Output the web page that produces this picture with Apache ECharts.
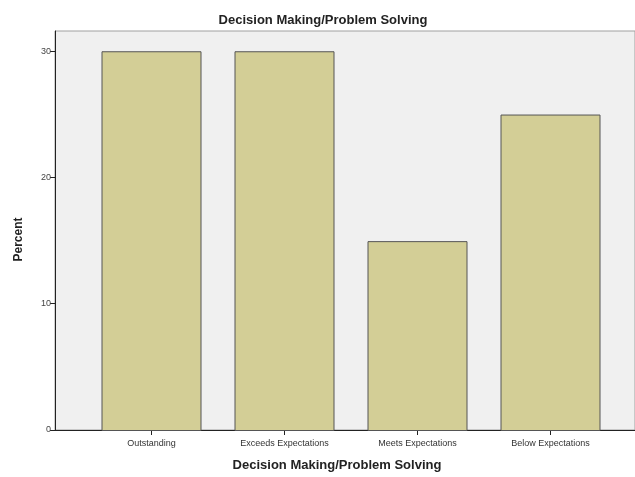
<!DOCTYPE html>
<html><head><meta charset="utf-8">
<script src="https://cdn.jsdelivr.net/npm/echarts@6/dist/echarts.min.js"></script>
<style>html,body{margin:0;padding:0;background:#fff}#c{width:635px;height:477px}</style>
</head><body><div id="c"></div>
<script>
const categories = ['Outstanding', 'Exceeds Expectations', 'Meets Expectations', 'Below Expectations'];
const percentValues = [30, 30, 15, 25];
const yTicks = [0, 10, 20, 30];

const chart = echarts.init(document.getElementById('c'), null, {renderer: 'canvas'});
const FONT = 'Liberation Sans, Arial, sans-serif';
chart.setOption({
  animation: false,
  backgroundColor: '#ffffff',
  title: {
    text: 'Decision Making/Problem Solving',
    left: 318, top: 9, textAlign: 'center',
    textStyle: {fontFamily: FONT, fontSize: 13, fontWeight: 'bold', color: '#222'}
  },
  grid: [
    {left: 55, right: -1, top: 31, bottom: 46, show: true, backgroundColor: '#f0f0f0', borderColor: '#a0a0a0', borderWidth: 1},
    {left: 85, right: 18, top: 31, bottom: 46}
  ],
  xAxis: [
    {gridIndex: 0, type: 'value', min: 0, max: 1, show: true,
     axisLine: {show: true, lineStyle: {color: '#222', width: 1}}, axisTick: {show: false}, axisLabel: {show: false}, splitLine: {show: false},
     name: 'Decision Making/Problem Solving', nameLocation: 'middle', nameGap: 29,
     nameTextStyle: {fontFamily: FONT, fontSize: 13, fontWeight: 'bold', color: '#222', padding: [0, 16, 0, 0]}},
    {gridIndex: 1, type: 'category', data: categories,
     axisLine: {show: false}, axisTick: {show: true, alignWithLabel: true, length: 4, lineStyle: {color: '#222'}},
     axisLabel: {fontFamily: FONT, fontSize: 9, color: '#333', margin: 8, interval: 0}}
  ],
  yAxis: [
    {gridIndex: 0, type: 'value', min: 0, max: 31.6,
     axisLine: {show: true, lineStyle: {color: '#222', width: 1}},
     axisTick: {show: true, length: 5, lineStyle: {color: '#222'}, customValues: yTicks},
     axisLabel: {fontFamily: FONT, fontSize: 9, color: '#444', margin: 4, customValues: yTicks},
     splitLine: {show: false},
     name: 'Percent', nameLocation: 'middle', nameGap: 30, nameRotate: 90,
     nameTextStyle: {fontFamily: FONT, fontSize: 12, fontWeight: 'bold', color: '#222', padding: [0, 0, 0, -18]}},
    {gridIndex: 1, type: 'value', min: 0, max: 31.6, show: false}
  ],
  series: [{
    type: 'bar', xAxisIndex: 1, yAxisIndex: 1, data: percentValues,
    barWidth: 100,
    itemStyle: {color: '#d3ce96', borderColor: '#555', borderWidth: 1}
  }]
});
</script></body></html>
